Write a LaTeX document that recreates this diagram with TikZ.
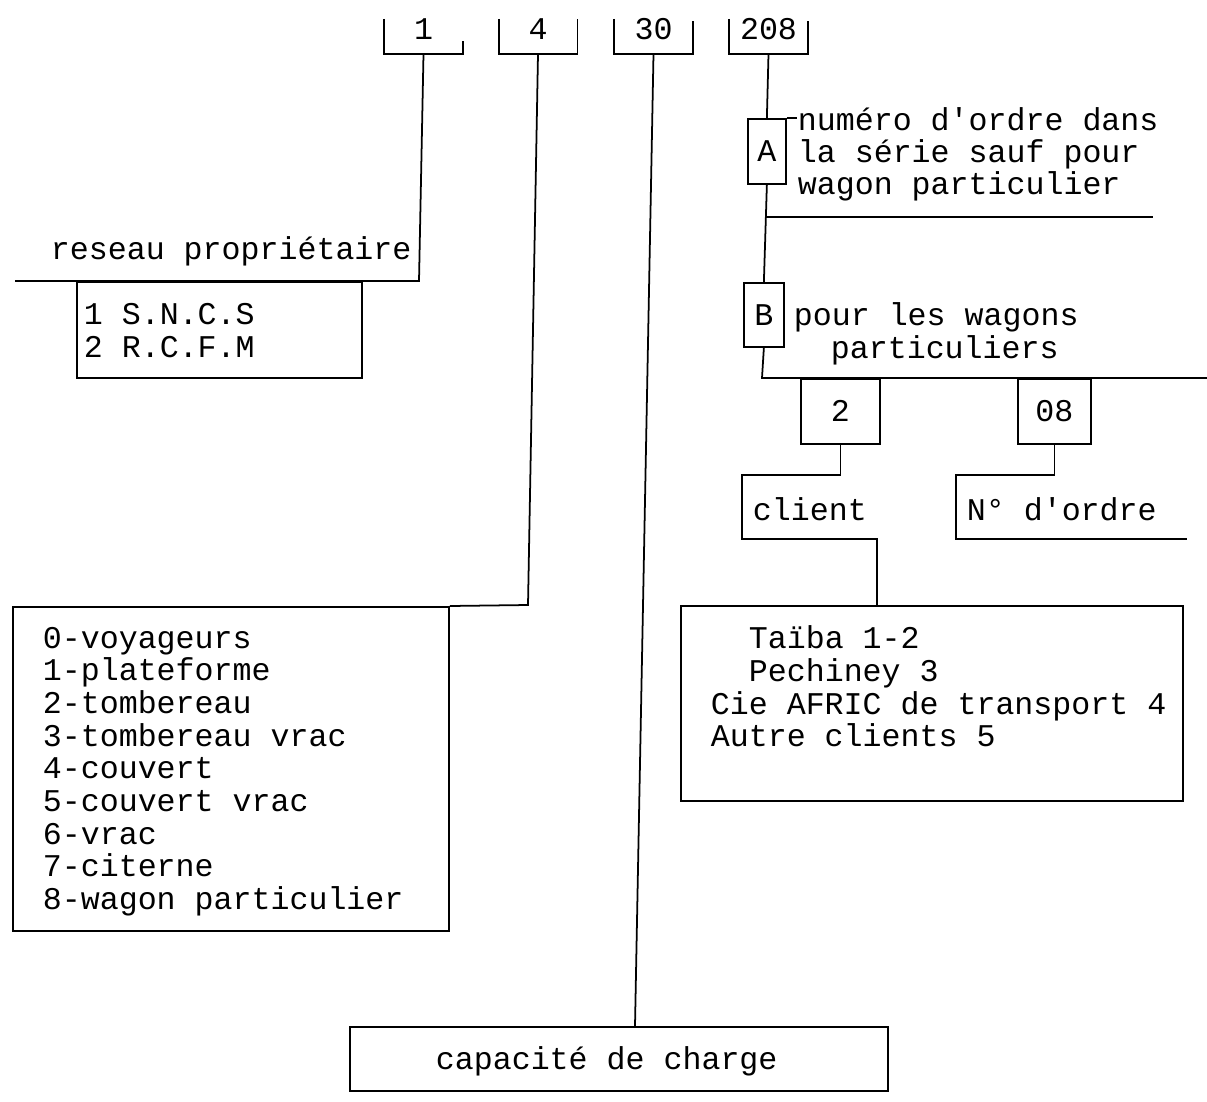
\documentclass[tikz,border=0pt]{standalone}
\usepackage{fontspec}
\setmonofont{Liberation Mono}
\newlength\pxu
\setlength\pxu{0.02cm}
\tikzset{
  txt/.style={font=\ttfamily\fontsize{18}{18}\selectfont, inner sep=0pt},
  lbl/.style={txt, anchor=base west},
  frame/.style={draw, inner sep=0pt, anchor=north west},
  digits/.style={txt, minimum width=77\pxu, text height=21\pxu, text depth=14\pxu},
}
\begin{document}
\begin{tikzpicture}[x=0.02cm, y=-0.02cm, line width=1pt]
\useasboundingbox (0,0) rectangle (1207,1102);

% les quatre groupes du numero
\node[digits] (d1) at (423.5,35.5) {1};
\node[digits] (d4) at (538,35.5) {4};
\node[digits] (d30) at (653.5,35.5) {30};
\node[digits] (d208) at (768.5,35.5) {208};
\foreach \n/\h in {d1/13, d4/35, d30/33, d208/33}
  \draw (\n.south west) ++(0,-35) -- (\n.south west) -- (\n.south east) -- ++(0,-\h);

% reseau
\coordinate (c1) at (419,281);
\coordinate (c1end) at (15,281);
\draw (d1.south) -- (c1) -- (c1end);
\node[lbl] (reseau) at (50,259) {reseau propriétaire};
\node[frame, minimum width=285\pxu, minimum height=96\pxu] (snc) at (76,281) {};
\node[lbl] (snc1) at (83,324) {1 S.N.C.S};
\node[lbl] (snc2) at (83,357) {2 R.C.F.M};

% genre de wagon
\node[frame, minimum width=436\pxu, minimum height=324\pxu] (genre) at (12,606) {};
\coordinate (c4) at (528,605);
\draw (d4.south) -- (c4) -- (genre.north east);
\foreach \t [count=\i from 0] in {0-voyageurs, 1-plateforme, 2-tombereau,
    3-tombereau vrac, 4-couvert, 5-couvert vrac, 6-vrac, 7-citerne,
    8-wagon particulier}
  \node[lbl] (genre\i) at (42,648+32.7*\i) {\t};

% capacite
\node[frame, minimum width=538\pxu, minimum height=64\pxu] (cap) at (349,1026) {};
\node[lbl] (captxt) at (435,1069) {capacité de charge};
\coordinate (c30) at (635,1026);
\draw (d30.south) -- (c30);

% numero d'ordre
\node[frame, txt, minimum width=38\pxu, minimum height=65\pxu] (ka) at (747,118) {A};
\draw (d208.south) -- (ka.north);
\draw (ka.north east) -- ++(10,0);
\foreach \t [count=\i from 0] in {numéro d'ordre dans, la série sauf pour, wagon particulier}
  \node[lbl] (ta\i) at (797,130+32*\i) {\t};
\node[frame, txt, minimum width=40\pxu, minimum height=64\pxu] (kb) at (743,282) {B};
\draw (ka.south) -- (kb.north);
\coordinate (ca) at (765,217);
\coordinate (caend) at (1153,217);
\draw (ca) -- (caend);
\node[lbl] (tb1) at (793,325) {pour les wagons};
\node[lbl] (tb2) at (830,358) {particuliers};

% wagons particuliers
\coordinate (cb) at (762,378);
\coordinate (cbend) at (1207,378);
\draw (kb.south) -- (cb) -- (cbend);
\node[frame, txt, minimum width=79\pxu, minimum height=65\pxu] (k2) at (800,378) {2};
\node[frame, txt, minimum width=73\pxu, minimum height=65\pxu] (k08) at (1017,378) {08};

\node[frame, minimum width=502\pxu, minimum height=195\pxu] (liste) at (680,605) {};
\coordinate (cl) at (742,475);
\coordinate (cr) at (877,539);
\draw (k2.south) |- (cl) |- (cr) -- (liste.north -| cr);
\node[lbl] (client) at (752,520) {client};

\coordinate (nl) at (956,475);
\coordinate (nr) at (1187,539);
\draw (k08.south) |- (nl) |- (nr);
\node[lbl] (nordre) at (966,520) {N° d'ordre};

\foreach \x/\y/\t [count=\i] in {748/648/Taïba 1-2, 748/681/Pechiney 3,
    710/714/Cie AFRIC de transport 4, 710/746/Autre clients 5}
  \node[lbl] (cli\i) at (\x,\y) {\t};
\end{tikzpicture}
\end{document}
